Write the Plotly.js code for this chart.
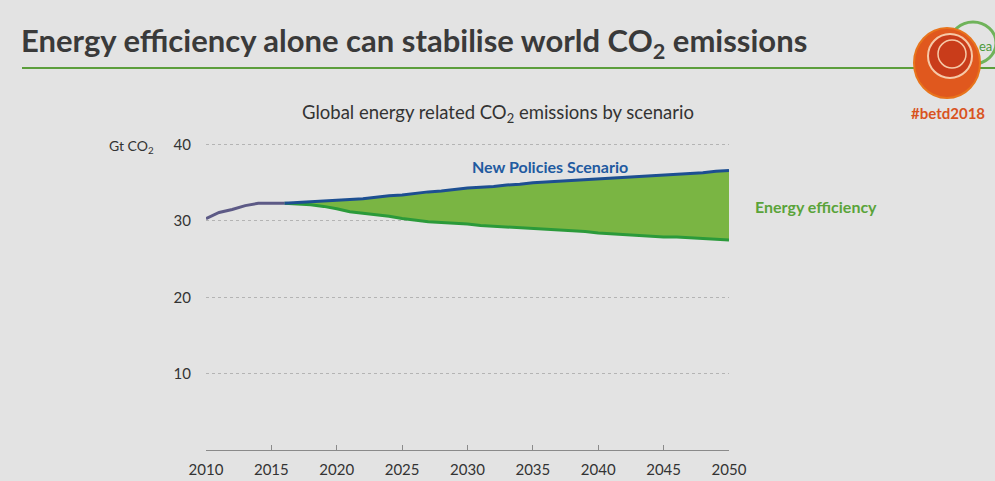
<!DOCTYPE html>
<html>
<head>
<meta charset="utf-8">
<script src="https://cdn.plot.ly/plotly-3.0.1.min.js"></script>
<style>
html,body{margin:0;padding:0;background:#e3e3e3;}
#chart{width:995px;height:481px;}
</style>
</head>
<body>
<div id="chart"></div>
<script>
// ---- Data ----
const histYears = [2010, 2011, 2012, 2013, 2014, 2015, 2016];
const histValues = [30.3, 31.1, 31.5, 32.0, 32.3, 32.3, 32.3];

const scenYears = [2016, 2017, 2018, 2019, 2020, 2021, 2022, 2023, 2024, 2025,
  2026, 2027, 2028, 2029, 2030, 2031, 2032, 2033, 2034, 2035,
  2036, 2037, 2038, 2039, 2040, 2041, 2042, 2043, 2044, 2045,
  2046, 2047, 2048, 2049, 2050];
const newPolicies = [32.3, 32.4, 32.5, 32.6, 32.7, 32.8, 32.9, 33.1, 33.3, 33.4,
  33.6, 33.8, 33.9, 34.1, 34.3, 34.4, 34.5, 34.7, 34.8, 35.0,
  35.1, 35.2, 35.3, 35.4, 35.5, 35.6, 35.7, 35.8, 35.9, 36.0,
  36.1, 36.2, 36.3, 36.5, 36.6];
const efficiency = [32.3, 32.2, 32.1, 31.9, 31.6, 31.2, 31.0, 30.8, 30.6, 30.3,
  30.1, 29.9, 29.8, 29.7, 29.6, 29.4, 29.3, 29.2, 29.1, 29.0,
  28.9, 28.8, 28.7, 28.6, 28.4, 28.3, 28.2, 28.1, 28.0, 27.9,
  27.9, 27.8, 27.7, 27.6, 27.5];

const xTicks = [2010, 2015, 2020, 2025, 2030, 2035, 2040, 2045, 2050];
const yTicks = [10, 20, 30, 40];

const pageTitle = 'Energy efficiency alone can stabilise world CO<sub>2</sub> emissions';
const chartTitle = 'Global energy related CO<sub>2</sub> emissions by scenario';
const unitLabel = 'Gt CO<sub>2</sub>';
const npsLabel = 'New Policies Scenario';
const effLabel = 'Energy efficiency';
const tagLabel = '#betd2018';

// ---- Layout helpers (pixel -> paper) ----
const L = 206, R = 729, T = 143, B = 450;
const W = 995, H = 481;
const px = x => (x - L) / (R - L);
const py = y => (B - y) / (B - T);

const FONT = 'Lato, "Open Sans", sans-serif';

const traces = [
  {
    x: scenYears, y: efficiency, type: 'scatter', mode: 'lines',
    line: {color: '#2b9a3a', width: 3}, hoverinfo: 'skip', showlegend: false
  },
  {
    x: scenYears, y: newPolicies, type: 'scatter', mode: 'lines',
    fill: 'tonexty', fillcolor: '#7ab543',
    line: {color: '#1d4f91', width: 3}, hoverinfo: 'skip', showlegend: false
  },
  {
    x: histYears, y: histValues, type: 'scatter', mode: 'lines',
    line: {color: '#5d5a86', width: 3}, hoverinfo: 'skip', showlegend: false
  }
];

const layout = {
  width: W, height: H,
  paper_bgcolor: '#e3e3e3', plot_bgcolor: '#e3e3e3',
  margin: {l: L, r: W - R, t: T, b: H - B},
  font: {family: FONT, color: '#333'},
  xaxis: {
    range: [2010, 2050], tickvals: xTicks, ticktext: xTicks.map(String),
    showgrid: false, zeroline: false,
    showline: true, linecolor: '#8a8a8a', linewidth: 1,
    ticks: 'inside', ticklen: 5, tickcolor: '#8a8a8a',
    ticklabelstandoff: 6,
    tickfont: {family: FONT, size: 15, color: '#333'},
    fixedrange: true
  },
  yaxis: {
    range: [0, 40.2], tickvals: yTicks, ticktext: yTicks.map(String),
    showgrid: true, gridcolor: '#b4b4b4', griddash: 'dot', gridwidth: 1,
    zeroline: false, showline: false, ticks: '',
    ticklabelstandoff: 14,
    tickfont: {family: FONT, size: 15, color: '#333'},
    fixedrange: true
  },
  shapes: [
    // green rule below slide title
    {type: 'line', xref: 'paper', yref: 'paper', x0: px(22), x1: px(995), y0: py(68), y1: py(68),
     line: {color: '#5c9e3c', width: 2}},
    // logo: green arc
    {type: 'circle', xref: 'paper', yref: 'paper', x0: px(950), x1: px(996), y0: py(64), y1: py(22),
     line: {color: '#6fb35a', width: 3}, fillcolor: '#e3e3e3'},
    // logo: orange disc
    {type: 'circle', xref: 'paper', yref: 'paper', x0: px(914), x1: px(980), y0: py(98), y1: py(28),
     line: {color: '#e8741c', width: 2}, fillcolor: '#e0581e'},
    {type: 'circle', xref: 'paper', yref: 'paper', x0: px(928), x1: px(972), y0: py(78), y1: py(34),
     line: {color: '#f6c9a8', width: 2}, fillcolor: '#c93c1a'},
    {type: 'circle', xref: 'paper', yref: 'paper', x0: px(938), x1: px(966), y0: py(68), y1: py(40),
     line: {color: '#f6c9a8', width: 1.5}, fillcolor: 'rgba(0,0,0,0)'}
  ],
  annotations: [
    {text: pageTitle, xref: 'paper', yref: 'paper', x: px(19), y: py(42), xanchor: 'left', yanchor: 'middle',
     showarrow: false, font: {family: FONT, size: 31, color: '#3a3a3a', weight: 'bold'}},
    {text: chartTitle, xref: 'paper', yref: 'paper', x: px(498), y: py(114), xanchor: 'center', yanchor: 'middle',
     showarrow: false, font: {family: FONT, size: 18.5, color: '#333'}},
    {text: unitLabel, xref: 'paper', yref: 'paper', x: px(156), y: py(146), xanchor: 'right', yanchor: 'middle',
     showarrow: false, font: {family: FONT, size: 14, color: '#333'}},
    {text: npsLabel, xref: 'paper', yref: 'paper', x: px(550), y: py(166), xanchor: 'center', yanchor: 'middle',
     showarrow: false, font: {family: FONT, size: 16, color: '#1f5aa0', weight: 'bold'}},
    {text: effLabel, xref: 'paper', yref: 'paper', x: px(816), y: py(206), xanchor: 'center', yanchor: 'middle',
     showarrow: false, font: {family: FONT, size: 16, color: '#5aa33a', weight: 'bold'}},
    {text: 'ea', xref: 'paper', yref: 'paper', x: px(985), y: py(46), xanchor: 'center', yanchor: 'middle',
     showarrow: false, font: {family: FONT, size: 13, color: '#4d9a3a'}},
    {text: tagLabel, xref: 'paper', yref: 'paper', x: px(948), y: py(113), xanchor: 'center', yanchor: 'middle',
     showarrow: false, font: {family: FONT, size: 15, color: '#d9531e', weight: 'bold'}}
  ]
};

Plotly.newPlot('chart', traces, layout, {displayModeBar: false, staticPlot: true});
</script>
</body>
</html>
